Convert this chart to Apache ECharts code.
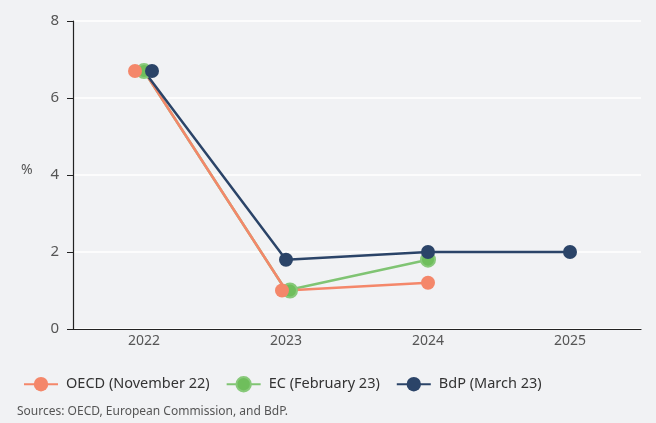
<!DOCTYPE html>
<html>
<head>
    <meta charset="utf-8">
    <title>Growth projections</title>
    <script src="https://cdn.jsdelivr.net/npm/echarts@6/dist/echarts.min.js"></script>
    <style>
        html, body { margin: 0; padding: 0; background: #f1f2f4; }
        #chart1 { width: 656px; height: 423px; }
    </style>
</head>
<body>
<div id="chart1"></div>
<script type="text/javascript">
    // data
    var years = ['2022', '2023', '2024', '2025'];
    var oecd = [6.7, 1.0, 1.2, null];
    var ec = [6.7, 1.0, 1.8, null];
    var bdp = [6.7, 1.8, 2.0, 2.0];
    var names = ['OECD (November 22)', 'EC (February 23)', 'BdP (March 23)'];

    // markers are nudged sideways so they don't hide each other
    var shiftOecd = [[-9, 0], [-4, 0], [0, 0], [0, 0]];
    var shiftEc = [[0, 0], [4, 0], [0, 0], [0, 0]];
    var shiftBdp = [[8, 0], [0, 0], [0, 0], [0, 0]];

    function points(vals, shifts) {
        return vals.map(function (v, i) {
            return { value: v, symbolOffset: shifts[i] };
        });
    }

    var myChart1 = echarts.init(document.getElementById('chart1'));
    var font = '"Noto Sans", sans-serif';

    myChart1.setOption({
        backgroundColor: '#f1f2f4',
        animation: false,
        textStyle: { fontFamily: font },
        grid: { left: 73, right: 15, top: 21, bottom: 94 },
        legend: {
            left: 18,
            top: 371,
            itemWidth: 34,
            itemHeight: 18,
            itemGap: 16,
            textStyle: { fontSize: 14.5, color: '#333', fontFamily: font, padding: [0, 0, 0, 3] },
            data: names
        },
        graphic: [
            { type: 'text', left: 21, top: 163, style: { text: '%', fontSize: 14, fill: '#555', fontFamily: font } },
            { type: 'text', left: 17, top: 406, style: { text: 'Sources: OECD, European Commission, and BdP.', fontSize: 12, fill: '#555', fontFamily: font } }
        ],
        xAxis: {
            type: 'category',
            data: years,
            boundaryGap: true,
            axisLine: { lineStyle: { color: '#222', width: 1.2 } },
            axisTick: { length: 7, lineStyle: { color: '#222' } },
            axisLabel: { fontSize: 14, color: '#555', margin: 5 }
        },
        yAxis: {
            type: 'value',
            min: 0,
            max: 8,
            interval: 2,
            axisLine: { show: true, lineStyle: { color: '#222', width: 1.2 } },
            axisTick: { show: true, length: 6, lineStyle: { color: '#222' } },
            axisLabel: { fontSize: 15, color: '#555', margin: 14 },
            splitLine: { lineStyle: { color: '#ffffff', width: 1.5 } }
        },
        series: [
            {
                name: names[1], type: 'line', data: points(ec, shiftEc),
                symbol: 'circle', symbolSize: 14,
                itemStyle: { color: '#6fbe5c', borderColor: '#88c97a', borderWidth: 2 },
                lineStyle: { width: 2.5, color: '#80c473' }
            },
            {
                name: names[0], type: 'line', data: points(oecd, shiftOecd),
                symbol: 'circle', symbolSize: 14,
                itemStyle: { color: '#f4876a' },
                lineStyle: { width: 2.5, color: '#f4876a' }
            },
            {
                name: names[2], type: 'line', data: points(bdp, shiftBdp),
                symbol: 'circle', symbolSize: 14,
                itemStyle: { color: '#2b4468' },
                lineStyle: { width: 2.5, color: '#2b4468' }
            }
        ]
    });
</script>
</body>
</html>
